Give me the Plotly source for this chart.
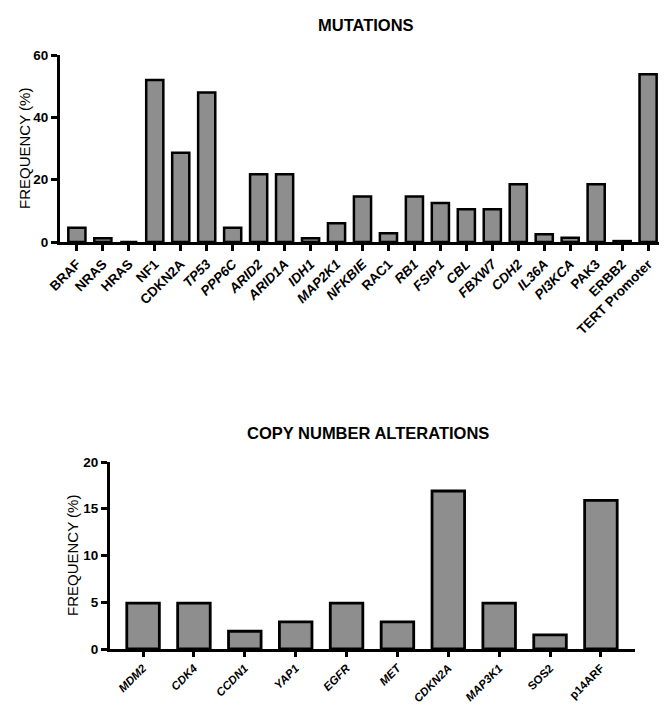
import plotly.graph_objects as go

# ---------------- data ----------------
mut_genes = ["BRAF", "NRAS", "HRAS", "NF1", "CDKN2A", "TP53", "PPP6C", "ARID2", "ARID1A",
             "IDH1", "MAP2K1", "NFKBIE", "RAC1", "RB1", "FSIP1", "CBL", "FBXW7", "CDH2",
             "IL36A", "PI3KCA", "PAK3", "ERBB2", "TERT Promoter"]
mut_freq = [4.6, 1.2, 0, 52, 28.6, 48, 4.6, 21.7, 21.7,
            1.2, 6, 14.6, 2.8, 14.6, 12.5, 10.5, 10.5, 18.5,
            2.5, 1.4, 18.5, 0.3, 53.8]
mut_yticks = [0, 20, 40, 60]

cna_genes = ["MDM2", "CDK4", "CCDN1", "YAP1", "EGFR", "MET", "CDKN2A", "MAP3K1", "SOS2", "p14ARF"]
cna_freq = [4.9, 4.9, 1.9, 2.9, 4.9, 2.9, 16.9, 4.9, 1.5, 15.9]
cna_yticks = [0, 5, 10, 15, 20]

# styling: gene names shown in italics
italic_mut = {"TP53", "PPP6C", "ARID2", "ARID1A", "IDH1", "MAP2K1", "NFKBIE", "RB1",
              "FSIP1", "CBL", "FBXW7", "CDH2", "IL36A", "PI3KCA"}
italic_cna = {"MDM2", "CDK4", "CCDN1", "YAP1", "EGFR", "MET", "CDKN2A", "MAP3K1"}


def fmt(names, ital):
    return [f"<i>{n}</i>" if n in ital else n for n in names]


W, H = 651, 705
OFF = 8  # page body margin offset
FONT = "Liberation Sans, Arial, Helvetica, sans-serif"
BAR_FILL = "#8e8e8e"


def px_x(p):
    return (p - OFF) / W


def px_y(p):
    return 1 - (p - OFF) / H


fig = go.Figure()
fig.add_trace(go.Bar(x=list(range(len(mut_genes))), y=mut_freq, xaxis="x", yaxis="y",
                     width=0.66,
                     marker=dict(color=BAR_FILL, line=dict(color="black", width=2.5)),
                     showlegend=False, hoverinfo="x+y"))
fig.add_trace(go.Bar(x=list(range(len(cna_genes))), y=cna_freq, xaxis="x2", yaxis="y2",
                     width=0.64,
                     marker=dict(color=BAR_FILL, line=dict(color="black", width=2.8)),
                     showlegend=False, hoverinfo="x+y"))


def axis_style(size, ticklen=6):
    return dict(showline=True, linecolor="black", linewidth=3, ticks="outside",
                tickcolor="black", tickwidth=2.5, ticklen=ticklen, showgrid=False,
                zeroline=False, fixedrange=True, automargin=False,
                tickfont=dict(family=FONT, size=size, color="black", weight="bold"))


fig.update_layout(
    template="none",
    width=W, height=H,
    margin=dict(l=0, r=0, t=0, b=0, pad=0),
    paper_bgcolor="white", plot_bgcolor="white",
    xaxis=dict(domain=[px_x(60), px_x(659)], anchor="y", range=[-0.65, 22.42],
               tickmode="array", tickvals=list(range(len(mut_genes))),
               ticktext=fmt(mut_genes, italic_mut), tickangle=-45, **axis_style(13.5)),
    yaxis=dict(domain=[px_y(242), px_y(55)], anchor="x", range=[0, 60],
               tickmode="array", tickvals=mut_yticks, **axis_style(13.5)),
    xaxis2=dict(domain=[px_x(110), px_x(635)], anchor="y2", range=[-0.65, 9.67],
                tickmode="array", tickvals=list(range(len(cna_genes))),
                ticktext=fmt(cna_genes, italic_cna), tickangle=-45, **axis_style(11.5, 5)),
    yaxis2=dict(domain=[px_y(649), px_y(462)], anchor="x2", range=[0, 20],
                tickmode="array", tickvals=cna_yticks, **axis_style(13.5)),
    annotations=[
        dict(text="MUTATIONS", x=px_x(366), y=px_y(25), xref="paper", yref="paper",
             showarrow=False, xanchor="center", yanchor="middle",
             font=dict(family=FONT, size=16.5, color="black", weight="bold")),
        dict(text="COPY NUMBER ALTERATIONS", x=px_x(368), y=px_y(433), xref="paper",
             yref="paper", showarrow=False, xanchor="center", yanchor="middle",
             font=dict(family=FONT, size=16.5, color="black", weight="bold")),
        dict(text="FREQUENCY (%)", x=px_x(25), y=px_y(149), xref="paper", yref="paper",
             showarrow=False, xanchor="center", yanchor="middle", textangle=-90,
             font=dict(family=FONT, size=15, color="black")),
        dict(text="FREQUENCY (%)", x=px_x(72), y=px_y(556), xref="paper", yref="paper",
             showarrow=False, xanchor="center", yanchor="middle", textangle=-90,
             font=dict(family=FONT, size=15, color="black")),
    ],
)

fig.write_html("out.html")
